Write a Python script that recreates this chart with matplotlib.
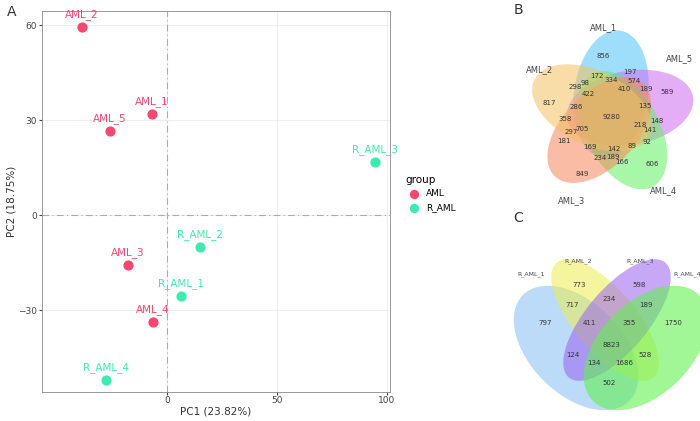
import numpy as np
import matplotlib.pyplot as plt
from matplotlib.patches import Ellipse

# PCA scores
samples = ["AML_2", "AML_1", "AML_5", "R_AML_3", "R_AML_2", "AML_3", "R_AML_1", "AML_4", "R_AML_4"]
pc1 = [-38.6, -6.8, -25.9, 94.5, 15.0, -17.7, 6.4, -6.4, -27.7]
pc2 = [59.4, 31.9, 26.5, 16.7, -10.0, -15.8, -25.6, -33.8, -52.1]
groups = ["AML", "AML", "AML", "R_AML", "R_AML", "AML", "R_AML", "AML", "R_AML"]
group_colors = {"AML": "#F8466F", "R_AML": "#3DEBAE"}

# five-set venn (AML)
venn5_sets = ["AML_1", "AML_5", "AML_4", "AML_3", "AML_2"]
venn5_colors = ["#4FC3F7", "#CE6CF2", "#62F062", "#F7865A", "#F5C262"]
venn5_counts = [856, 172, 334, 197, 574, 98, 298, 422, 410, 189, 589, 817, 286, 135, 9280,
                358, 148, 218, 141, 297, 705, 181, 92, 169, 142, 89, 234, 189, 166, 606, 849]
venn5_pos = [(603, 56), (597, 76), (611, 80), (630, 72), (634, 81), (585, 83), (575, 87), (588, 94),
             (624, 89), (646, 89), (667, 92), (549, 103), (576, 107), (645, 106), (611, 117),
             (565, 119), (657, 121), (640, 125), (650, 130), (571, 132), (582, 129), (564, 141),
             (647, 142), (590, 147), (614, 149), (632, 146), (600, 158), (613, 157), (622, 162),
             (652, 164), (582, 174)]
venn5_label_pos = [(604, 28), (679, 59), (664, 191), (572, 201), (539, 70)]

# four-set venn (R_AML)
venn4_sets = ["R_AML_1", "R_AML_2", "R_AML_3", "R_AML_4"]
venn4_colors = ["#8EC3F5", "#EEEE50", "#9A62F0", "#62F050"]
venn4_counts = [773, 598, 717, 234, 189, 797, 411, 355, 1750, 8823, 124, 528, 134, 1686, 502]
venn4_pos = [(579, 285), (639, 285), (572, 305), (609, 299), (646, 305), (545, 323), (589, 323),
             (629, 323), (673, 323), (611, 345), (573, 355), (645, 355), (594, 363), (624, 363), (609, 383)]
venn4_label_pos = [(531, 274), (578, 261), (640, 261), (687, 274)]

fig = plt.figure(figsize=(7, 4.21), dpi=100)

# ---- panel A ----
ax = fig.add_axes([0.06, 0.07, 0.497, 0.905])
ax.set_facecolor("white")
ax.grid(color="#EBEBEB", lw=0.6)
for s in ax.spines.values():
    s.set_color("#888888")
    s.set_linewidth(0.6)
ax.axvline(0, color="#AAAAAA", ls=(0, (6, 3, 1, 3)), lw=0.8)
ax.axhline(0, color="#AAAAAA", ls=(0, (6, 3, 1, 3)), lw=0.8)
for g in ["AML", "R_AML"]:
    idx = [i for i, gg in enumerate(groups) if gg == g]
    ax.scatter([pc1[i] for i in idx], [pc2[i] for i in idx], s=40, color=group_colors[g], label=g, zorder=3)
for i, name in enumerate(samples):
    ax.annotate(name, (pc1[i], pc2[i]), xytext=(0, 5), textcoords="offset points",
                ha="center", va="bottom", fontsize=7.5, color=group_colors[groups[i]])
ax.set_xlim(-56.8, 101.4)
ax.set_ylim(-55.7, 64.6)
ax.set_xticks([0, 50, 100])
ax.set_yticks([-30, 0, 30, 60])
ax.tick_params(labelsize=6.5, colors="#444444", length=2, pad=1.5)
ax.set_xlabel("PC1 (23.82%)", fontsize=7.5, color="#333333", labelpad=1)
ax.set_ylabel("PC2 (18.75%)", fontsize=7.5, color="#333333", labelpad=1)
leg = ax.legend(title="group", loc="center left", bbox_to_anchor=(1.02, 0.52), frameon=False,
                fontsize=6.5, title_fontsize=7.5, handletextpad=0.3, markerscale=0.9)
leg._legend_box.align = "left"

# ---- overlay for venns and panel letters ----
ov = fig.add_axes([0, 0, 1, 1], zorder=5)
ov.set_xlim(0, 700)
ov.set_ylim(421, 0)
ov.axis("off")
ov.patch.set_alpha(0)

cx, cy, r = 611, 114, 20
for i, col in enumerate(venn5_colors):
    th = np.deg2rad(90 - i * 72)
    c = (cx + r * np.cos(th), cy - r * np.sin(th))
    ov.add_patch(Ellipse(c, 128, 74, angle=-np.rad2deg(th) + 8, color=col, alpha=0.55, lw=0))
for n, (x, y) in zip(venn5_counts, venn5_pos):
    ov.text(x, y, str(n), fontsize=5, ha="center", va="center", color="#333333")
for name, (x, y) in zip(venn5_sets, venn5_label_pos):
    ov.text(x, y, name, fontsize=6, ha="center", va="center", color="#444444")

ov.add_patch(Ellipse((576, 348), 150, 92, angle=45, color=venn4_colors[0], alpha=0.6, lw=0))
ov.add_patch(Ellipse((605, 320), 150, 62, angle=50, color=venn4_colors[1], alpha=0.55, lw=0))
ov.add_patch(Ellipse((617, 320), 150, 62, angle=-50, color=venn4_colors[2], alpha=0.55, lw=0))
ov.add_patch(Ellipse((646, 348), 150, 92, angle=-45, color=venn4_colors[3], alpha=0.6, lw=0))
for n, (x, y) in zip(venn4_counts, venn4_pos):
    ov.text(x, y, str(n), fontsize=5, ha="center", va="center", color="#333333")
for name, (x, y) in zip(venn4_sets, venn4_label_pos):
    ov.text(x, y, name, fontsize=4.5, ha="center", va="center", color="#444444")

for letter, (x, y) in zip("ABC", [(12, 12), (518, 10), (518, 218)]):
    ov.text(x, y, letter, fontsize=10, ha="center", va="center", color="#333333")

fig.savefig("out.png", dpi=100)
